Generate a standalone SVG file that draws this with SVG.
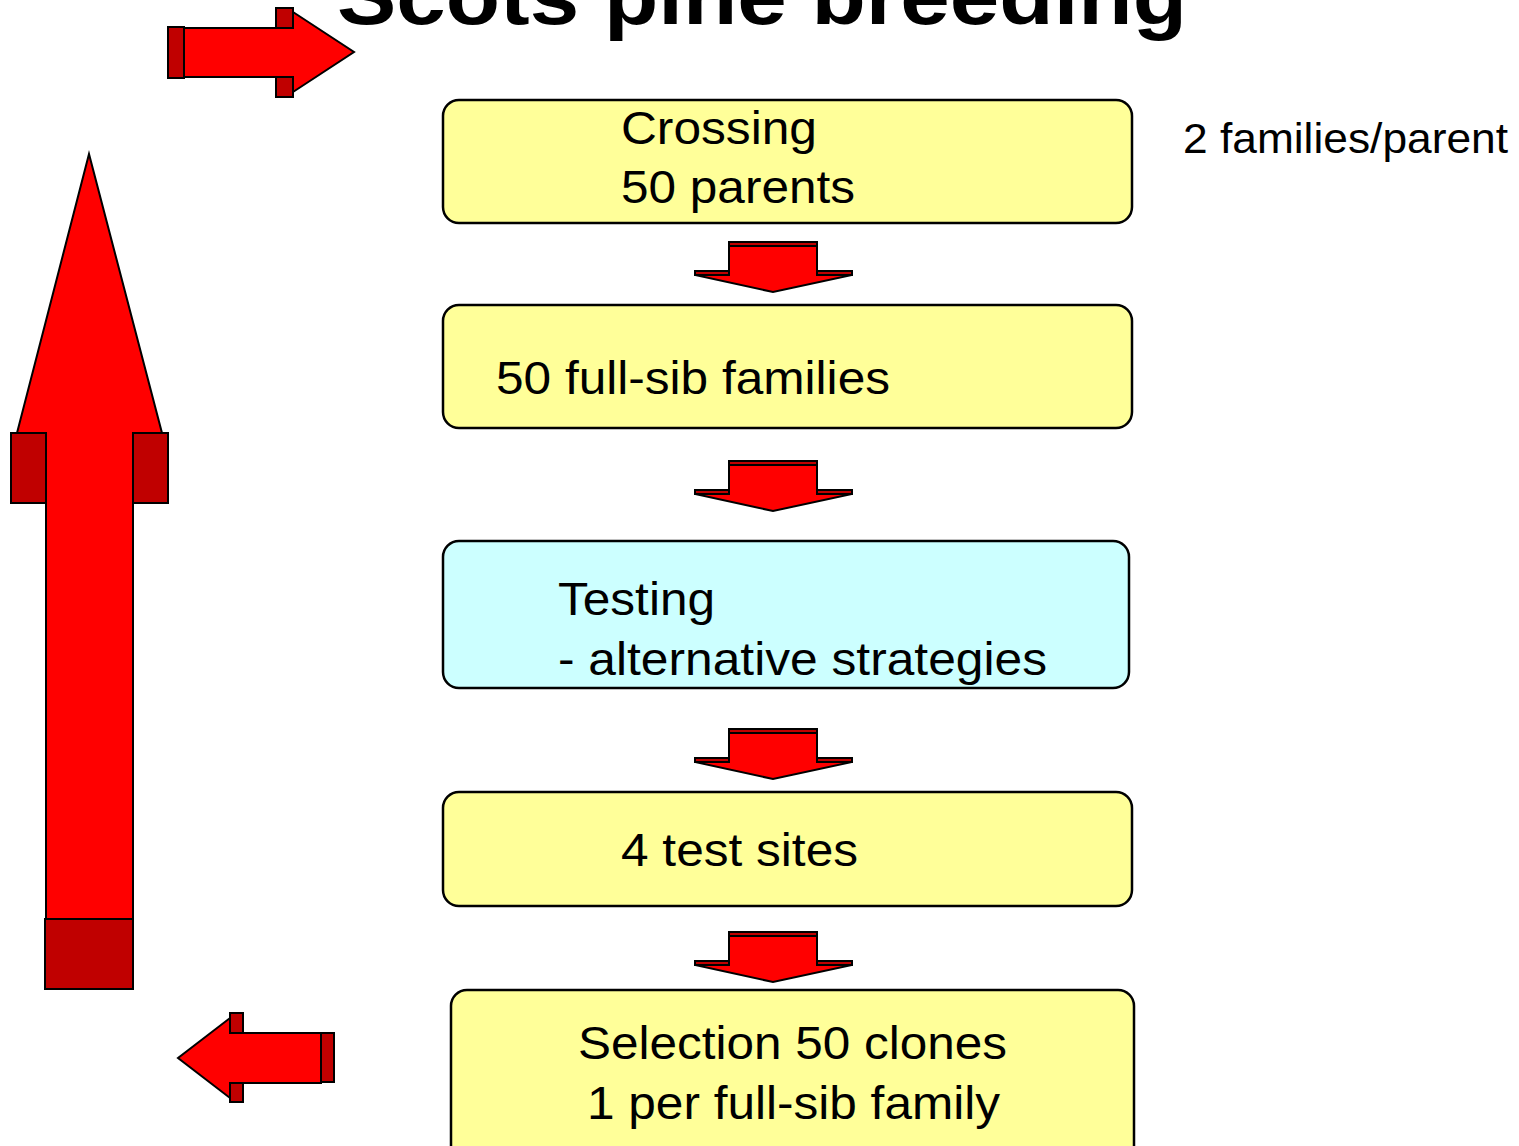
<svg xmlns="http://www.w3.org/2000/svg" width="1519" height="1146" viewBox="0 0 1519 1146">
<style>
.red{fill:#ff0000;stroke:#000;stroke-width:2;stroke-linejoin:miter}
.dark{fill:#c00000;stroke:#000;stroke-width:2}
.box{stroke:#000;stroke-width:2.5}
.y{fill:#ffff99}
.c{fill:#ccffff}
.t{font-family:"Liberation Sans",Arial,sans-serif;font-size:46px;fill:#000}
.title{font-family:"Liberation Sans",Arial,sans-serif;font-size:80px;font-weight:bold;fill:#000}
.note{font-family:"Liberation Sans",Arial,sans-serif;font-size:43px;fill:#000}
</style>
<defs>
<g id="darrow">
<polygon class="red" points="729,4 817,4 817,30 852,30 852,33 773,50 695,33 695,30 729,30"/>
<rect class="dark" x="729" y="0" width="88" height="4"/>
<rect class="dark" x="695" y="29" width="34" height="4"/>
<rect class="dark" x="817" y="29" width="35" height="4"/>
</g>
</defs>
<rect width="1519" height="1146" fill="#fff"/>
<text class="title" x="337" y="24" textLength="850" lengthAdjust="spacingAndGlyphs">Scots pine breeding</text>
<g id="connectors">
<use href="#darrow" y="242"/>
<use href="#darrow" y="461"/>
<use href="#darrow" y="729"/>
<use href="#darrow" y="932"/>
<g id="arrow-top">
<polygon class="red" points="184,28 293,28 293,12 354,52 293,92 293,77 184,77"/>
<rect class="dark" x="168" y="27" width="16" height="51"/>
<rect class="dark" x="276" y="8" width="17" height="20"/>
<rect class="dark" x="276" y="77" width="17" height="20"/>
</g>
<g id="arrow-up">
<polygon class="red" points="46,919 46,433 17,433 89,154 162,433 133,433 133,919"/>
<rect class="dark" x="11" y="433" width="35" height="70"/>
<rect class="dark" x="133" y="433" width="35" height="70"/>
<rect class="dark" x="45" y="919" width="88" height="70"/>
</g>
<g id="arrow-left">
<polygon class="red" points="321,1033 243,1033 230,1018 178,1058 230,1098 243,1083 321,1083"/>
<rect class="dark" x="230" y="1013" width="13" height="20"/>
<rect class="dark" x="230" y="1083" width="13" height="19"/>
<rect class="dark" x="321" y="1033" width="13" height="49"/>
</g>
</g>
<g id="crossing">
<rect class="box y" x="443" y="100" width="689" height="123" rx="16"/>
<text class="t" x="621" y="144" textLength="196" lengthAdjust="spacingAndGlyphs">Crossing</text>
<text class="t" x="621" y="203" textLength="234" lengthAdjust="spacingAndGlyphs">50 parents</text>
</g>
<g id="families">
<rect class="box y" x="443" y="305" width="689" height="123" rx="16"/>
<text class="t" x="496" y="394" textLength="394" lengthAdjust="spacingAndGlyphs">50 full-sib families</text>
</g>
<g id="testing">
<rect class="box c" x="443" y="541" width="686" height="147" rx="16"/>
<text class="t" x="558" y="615" textLength="157" lengthAdjust="spacingAndGlyphs">Testing</text>
<text class="t" x="558" y="675" textLength="489" lengthAdjust="spacingAndGlyphs">- alternative strategies</text>
</g>
<g id="sites">
<rect class="box y" x="443" y="792" width="689" height="114" rx="16"/>
<text class="t" x="621" y="866" textLength="237" lengthAdjust="spacingAndGlyphs">4 test sites</text>
</g>
<g id="selection">
<rect class="box y" x="451" y="990" width="683" height="180" rx="16"/>
<text class="t" x="578" y="1059" textLength="429" lengthAdjust="spacingAndGlyphs">Selection 50 clones</text>
<text class="t" x="587" y="1119" textLength="413" lengthAdjust="spacingAndGlyphs">1 per full-sib family</text>
</g>
<g id="note">
<text class="note" x="1183" y="153" textLength="325" lengthAdjust="spacingAndGlyphs">2 families/parent</text>
</g>
</svg>
